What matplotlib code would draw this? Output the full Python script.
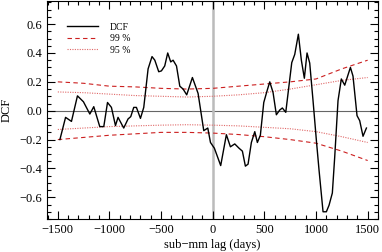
import matplotlib
matplotlib.use("Agg")
import matplotlib.pyplot as plt
from matplotlib.ticker import MultipleLocator

# -------------------------
# data
# -------------------------
lag = [-1480, -1425, -1368, -1310, -1252, -1190, -1152, -1094, -1055, -1019,
       -981, -942, -917, -862, -820, -794, -765, -739, -700, -668,
       -626, -588, -561, -523, -497, -465, -436, -407, -384, -351,
       -319, -287, -252, -197, -142, -87, -48, -22, 16, 77,
       132, 171, 213, 255, 287, 316, 342, 374, 407, 432,
       461, 494, 526, 552, 584, 616, 649, 674, 707, 765,
       794, 829, 858, 887, 913, 939, 971, 1004, 1029, 1068,
       1100, 1126, 1158, 1181, 1213, 1245, 1278, 1333, 1358, 1397,
       1423, 1455, 1488]
dcf = [-0.20, -0.046, -0.074, 0.103, 0.062, -0.023, 0.028, -0.11, -0.11, 0.057,
       0.023, -0.103, -0.046, -0.12, -0.057, -0.041, 0.023, 0.023, -0.053, 0.023,
       0.29, 0.375, 0.35, 0.27, 0.276, 0.31, 0.40, 0.338, 0.35, 0.31,
       0.17, 0.15, 0.11, 0.23, 0.12, -0.138, -0.12, -0.22, -0.26, -0.38,
       -0.166, -0.25, -0.23, -0.26, -0.28, -0.384, -0.37, -0.22, -0.145, -0.22,
       -0.17, 0.057, 0.138, 0.20, 0.126, -0.028, 0.005, 0.019, -0.011, 0.333,
       0.39, 0.53, 0.35, 0.225, 0.40, 0.33, 0.07, -0.21, -0.41, -0.70,
       -0.70, -0.655, -0.57, -0.32, 0.07, 0.22, 0.177, 0.30, 0.24, -0.034,
       -0.069, -0.177, -0.12]

conf_lag = [-1500, -1250, -1000, -750, -500, -250, 0, 250, 500, 750, 1000, 1250, 1500]
c99_up = [0.20, 0.19, 0.17, 0.165, 0.155, 0.15, 0.155, 0.17, 0.185, 0.20, 0.22, 0.29, 0.35]
c99_lo = [-0.20, -0.185, -0.17, -0.16, -0.15, -0.15, -0.155, -0.165, -0.18, -0.20, -0.225, -0.28, -0.345]
c95_up = [0.13, 0.125, 0.115, 0.105, 0.10, 0.095, 0.10, 0.11, 0.125, 0.15, 0.18, 0.21, 0.23]
c95_lo = [-0.13, -0.12, -0.11, -0.105, -0.10, -0.097, -0.10, -0.105, -0.115, -0.125, -0.145, -0.18, -0.22]

# -------------------------
# plot
# -------------------------
plt.rcParams["font.family"] = ["Liberation Serif", "DejaVu Serif"]

fig = plt.figure(figsize=(3.82, 2.52), dpi=100)
ax = fig.add_axes([0.123, 0.131, 0.8665, 0.865])

ax.axhline(0, color="#666666", lw=0.8, zorder=1)
ax.axvline(0, color="#bbbbbb", lw=1.8, zorder=1)

ax.plot(lag, dcf, color="black", lw=1.0, label="DCF", zorder=3)
ax.plot(conf_lag, c99_up, color="#cc2020", lw=0.8, ls=(0, (4, 3)), label="99 %")
ax.plot(conf_lag, c99_lo, color="#cc2020", lw=0.8, ls=(0, (4, 3)))
ax.plot(conf_lag, c95_up, color="#e06868", lw=0.8, ls=(0, (1, 1.2)), label="95 %")
ax.plot(conf_lag, c95_lo, color="#e06868", lw=0.8, ls=(0, (1, 1.2)))

ax.set_xlim(-1605, 1600)
ax.set_ylim(-0.75, 0.76)
ax.xaxis.set_major_locator(MultipleLocator(500))
ax.xaxis.set_minor_locator(MultipleLocator(100))
ax.yaxis.set_major_locator(MultipleLocator(0.2))
ax.yaxis.set_minor_locator(MultipleLocator(0.05))
ax.yaxis.set_major_formatter(lambda v, p: f"{v:.1f}".replace("-", "\u2212"))
ax.tick_params(which="both", direction="in", top=True, right=True, labelsize=9)
ax.tick_params(which="major", length=6, width=0.8)
ax.tick_params(which="minor", length=3, width=0.8)

ax.set_xlabel("sub\u2212mm lag (days)", fontsize=9, labelpad=2)
ax.set_ylabel("DCF", fontsize=9, labelpad=5)

ax.legend(loc="upper left", bbox_to_anchor=(0.035, 0.94), frameon=False,
          fontsize=7, handlelength=3.2, labelspacing=0.25, handletextpad=1.2)

plt.savefig("out.png", dpi=100)
